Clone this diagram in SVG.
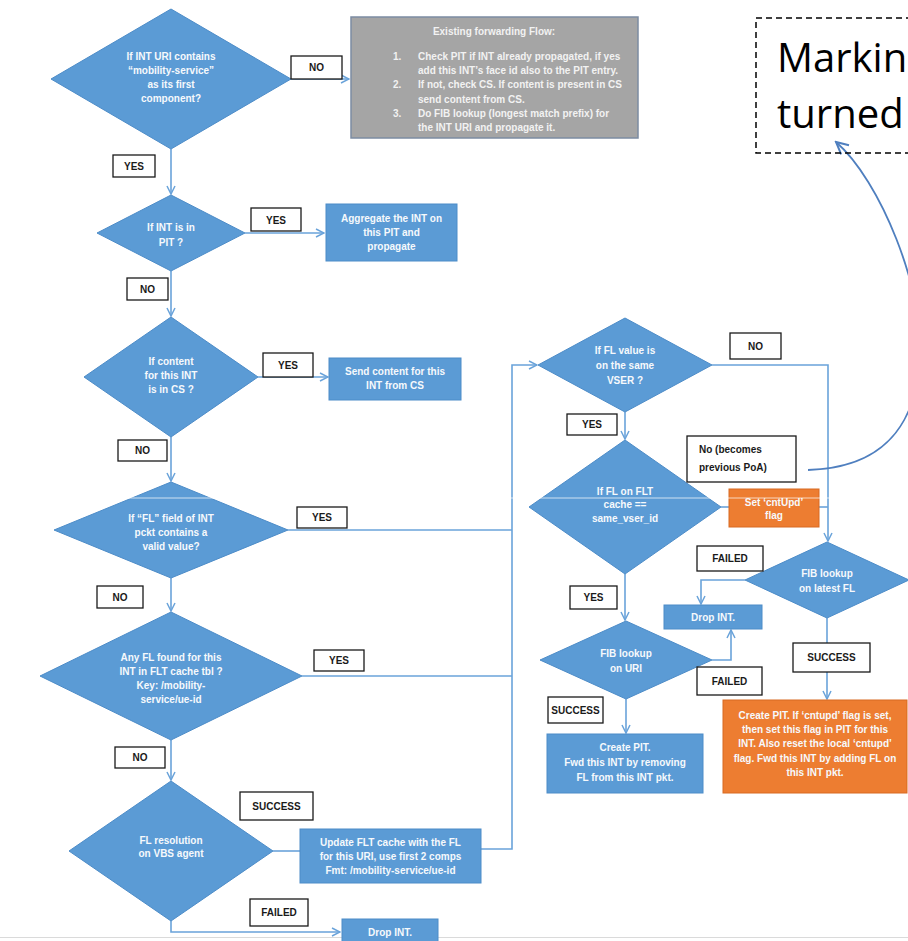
<svg xmlns="http://www.w3.org/2000/svg" width="908" height="941" viewBox="0 0 908 941">
  <style>
    .dia { fill: #5b9bd5; stroke: #4d8cc8; stroke-width: 1; }
    .box { fill: #5b9bd5; stroke: #4d8cc8; stroke-width: 1; }
    .obox { fill: #ed7d31; stroke: #d86a22; stroke-width: 1; }
    .gbox { fill: #a5a5a5; stroke: #7c8ca2; stroke-width: 1.5; }
    .lbl rect { fill: #ffffff; stroke: #1a1a1a; stroke-width: 1.3; }
    .lbl text { fill: #1a1a1a; font-family: "Liberation Sans", Arial, sans-serif; font-size: 10px; font-weight: bold; text-anchor: middle; }
    .nt { fill: #f6f9fc; font-family: "Liberation Sans", Arial, sans-serif; font-size: 10px; font-weight: bold; text-anchor: middle; }
    .gt { fill: #f2f2f2; font-family: "Liberation Sans", Arial, sans-serif; font-size: 10px; font-weight: bold; }
    .conn { fill: none; stroke: #6aa3da; stroke-width: 1.6; }
    .note { fill: #000000; font-family: "Open Sans", "Liberation Sans", sans-serif; font-size: 40px; }
  </style>
  <defs>
    <marker id="ah" viewBox="0 0 10 10" refX="9" refY="5" markerWidth="10" markerHeight="10" orient="auto" markerUnits="userSpaceOnUse">
      <path d="M1,1 L9,5 L1,9" fill="none" stroke="#6aa3da" stroke-width="1.5"/>
    </marker>
    <marker id="ahBig" viewBox="0 0 16 16" refX="14" refY="8" markerWidth="16" markerHeight="16" orient="auto" markerUnits="userSpaceOnUse">
      <path d="M2,2 L14,8 L2,14" fill="none" stroke="#4f7fbf" stroke-width="2"/>
    </marker>
  </defs>

  <rect width="908" height="941" fill="#ffffff"/>
  <line x1="0" y1="937.5" x2="908" y2="937.5" stroke="#dadada" stroke-width="1"/>

  <!-- connectors -->
  <g id="connectors">
    <path class="conn" d="M291,79 H349" marker-end="url(#ah)"/>
    <path class="conn" d="M171,149 V194" marker-end="url(#ah)"/>
    <path class="conn" d="M245,233 H324" marker-end="url(#ah)"/>
    <path class="conn" d="M171,271 V316" marker-end="url(#ah)"/>
    <path class="conn" d="M258,377 H328" marker-end="url(#ah)"/>
    <path class="conn" d="M171,437 V481" marker-end="url(#ah)"/>
    <path class="conn" d="M288,530 H512"/>
    <path class="conn" d="M171,578 V611" marker-end="url(#ah)"/>
    <path class="conn" d="M302,676 H512"/>
    <path class="conn" d="M171,740 V780" marker-end="url(#ah)"/>
    <path class="conn" d="M273,851 H300"/>
    <path class="conn" d="M481,849 H512 V365 H537" marker-end="url(#ah)"/>
    <path class="conn" d="M171,921 V932 H340" marker-end="url(#ah)"/>
    <path class="conn" d="M712,365 H828 V541" marker-end="url(#ah)"/>
    <path class="conn" d="M625,412 V439" marker-end="url(#ah)"/>
    <path class="conn" d="M721,507 H729"/>
    <path class="conn" d="M819,507 H828"/>
    <path class="conn" d="M745,580 H701 V604" marker-end="url(#ah)"/>
    <path class="conn" d="M827,618 V699" marker-end="url(#ah)"/>
    <path class="conn" d="M625,574 V620" marker-end="url(#ah)"/>
    <path class="conn" d="M712,660 H731 V630" marker-end="url(#ah)"/>
    <path class="conn" d="M626,699 V733" marker-end="url(#ah)"/>
    <path d="M808,470 C880,468 915,430 920,360 C925,290 880,180 836,142" fill="none" stroke="#4f7fbf" stroke-width="1.8" marker-end="url(#ahBig)"/>
  </g>

  <!-- decision: mobility-service prefix -->
  <g id="d-uri">
    <polygon class="dia" points="171,9 291,79 171,149 51,79"/>
    <text class="nt" x="171" y="59.5">If INT URI contains</text>
    <text class="nt" x="171" y="73.5">“mobility-service”</text>
    <text class="nt" x="171" y="87.5">as its first</text>
    <text class="nt" x="171" y="101.5">component?</text>
  </g>

  <!-- existing forwarding flow -->
  <g id="existing-flow">
    <rect class="gbox" x="351" y="17" width="287" height="121"/>
    <text class="gt" x="494" y="35" text-anchor="middle">Existing forwarding Flow:</text>
    <text class="gt" x="393" y="60">1.</text>
    <text class="gt" x="418" y="60">Check PIT if INT already propagated, if yes</text>
    <text class="gt" x="418" y="74">add this INT’s face id also to the PIT entry.</text>
    <text class="gt" x="393" y="88">2.</text>
    <text class="gt" x="418" y="88">If not, check CS. If content is present in CS</text>
    <text class="gt" x="418" y="103">send content from CS.</text>
    <text class="gt" x="393" y="117">3.</text>
    <text class="gt" x="418" y="117">Do FIB lookup (longest match prefix) for</text>
    <text class="gt" x="418" y="131">the INT URI and propagate it.</text>
  </g>

  <!-- note box -->
  <g id="note">
    <rect x="756" y="18" width="170" height="135" fill="none" stroke="#000000" stroke-width="1.5" stroke-dasharray="6,4"/>
    <text class="note" x="777" y="72">Markin</text>
    <text class="note" x="777" y="128">turned</text>
  </g>

  <g id="d-pit">
    <polygon class="dia" points="171,195 245,233 171,271 97,233"/>
    <text class="nt" x="171" y="230.5">If INT is in</text>
    <text class="nt" x="171" y="245.5">PIT ?</text>
  </g>
  <g id="aggregate">
    <rect class="box" x="326" y="204" width="131" height="57"/>
    <text class="nt" x="391.5" y="221.5">Aggregate the INT on</text>
    <text class="nt" x="391.5" y="235.5">this PIT and</text>
    <text class="nt" x="391.5" y="249.5">propagate</text>
  </g>

  <g id="d-cs">
    <polygon class="dia" points="171,317 258,377 171,437 84,377"/>
    <text class="nt" x="171" y="364.5">If content</text>
    <text class="nt" x="171" y="378.5">for this INT</text>
    <text class="nt" x="171" y="392.5">is in CS ?</text>
  </g>
  <g id="send-content">
    <rect class="box" x="329" y="358" width="132" height="42"/>
    <text class="nt" x="395" y="374.5">Send content for this</text>
    <text class="nt" x="395" y="388.5">INT from CS</text>
  </g>

  <g id="d-fl-field">
    <polygon class="dia" points="171,482 288,530 171,578 54,530"/>
    <text class="nt" x="171" y="521.5">If “FL” field of INT</text>
    <text class="nt" x="171" y="535.5">pckt contains a</text>
    <text class="nt" x="171" y="550">valid value?</text>
  </g>

  <g id="d-flt-cache">
    <polygon class="dia" points="171,612 302,676 171,740 40,676"/>
    <text class="nt" x="171" y="660.5">Any FL found for this</text>
    <text class="nt" x="171" y="674.5">INT in FLT cache tbl ?</text>
    <text class="nt" x="171" y="688.5">Key: /mobility-</text>
    <text class="nt" x="171" y="702.5">service/ue-id</text>
  </g>

  <g id="d-vbs">
    <polygon class="dia" points="171,781 273,851 171,921 69,851"/>
    <text class="nt" x="171" y="843.5">FL resolution</text>
    <text class="nt" x="171" y="857">on VBS agent</text>
  </g>
  <g id="update-flt">
    <rect class="box" x="300" y="829" width="181" height="54"/>
    <text class="nt" x="390.5" y="845.5">Update FLT cache with the FL</text>
    <text class="nt" x="390.5" y="859.5">for this URI, use first 2 comps</text>
    <text class="nt" x="390.5" y="873.5">Fmt: /mobility-service/ue-id</text>
  </g>
  <g id="drop-vbs">
    <rect class="box" x="342" y="919" width="96" height="26"/>
    <text class="nt" x="390" y="935.5">Drop INT.</text>
  </g>

  <g id="d-same-vser">
    <polygon class="dia" points="625,318 712,365 625,412 538,365"/>
    <text class="nt" x="625" y="353.5">If FL value is</text>
    <text class="nt" x="625" y="368.5">on the same</text>
    <text class="nt" x="625" y="384">VSER ?</text>
  </g>

  <g id="d-flt-vser">
    <polygon class="dia" points="625,440 721,507 625,574 529,507"/>
    <text class="nt" x="625" y="494.5">If FL on FLT</text>
    <text class="nt" x="625" y="507.5">cache ==</text>
    <text class="nt" x="625" y="521.5">same_vser_id</text>
  </g>
  <g id="set-cntupd">
    <rect class="obox" x="729" y="489" width="90" height="38"/>
    <text class="nt" x="774" y="505.5">Set ‘cntUpd’</text>
    <text class="nt" x="774" y="518.5">flag</text>
  </g>

  <g id="d-fib-latest">
    <polygon class="dia" points="827,542 909,580 827,618 745,580"/>
    <text class="nt" x="827" y="576.5">FIB lookup</text>
    <text class="nt" x="827" y="591.5">on latest FL</text>
  </g>
  <g id="drop-fib">
    <rect class="box" x="664" y="605" width="98" height="24"/>
    <text class="nt" x="713" y="620.5">Drop INT.</text>
  </g>

  <g id="d-fib-uri">
    <polygon class="dia" points="626,621 712,660 626,699 540,660"/>
    <text class="nt" x="626" y="656.5">FIB lookup</text>
    <text class="nt" x="626" y="671.5">on URI</text>
  </g>
  <g id="create-pit-remove">
    <rect class="box" x="547" y="734" width="156" height="59"/>
    <text class="nt" x="625" y="750.5">Create PIT.</text>
    <text class="nt" x="625" y="765.5">Fwd this INT by removing</text>
    <text class="nt" x="625" y="780.5">FL from this INT pkt.</text>
  </g>
  <g id="create-pit-add">
    <rect class="obox" x="723" y="700" width="184" height="93"/>
    <text class="nt" x="815" y="718.5">Create PIT. If ‘cntupd’ flag is set,</text>
    <text class="nt" x="815" y="732.5">then set this flag in PIT for this</text>
    <text class="nt" x="815" y="746.5">INT. Also reset the local ‘cntupd’</text>
    <text class="nt" x="815" y="761.5">flag. Fwd this INT by adding FL on</text>
    <text class="nt" x="815" y="775.5">this INT pkt.</text>
  </g>

  <!-- edge labels -->
  <g id="labels">
    <g class="lbl"><rect x="291" y="56" width="51" height="23"/><text x="316.5" y="71">NO</text></g>
    <g class="lbl"><rect x="113" y="155" width="42" height="22"/><text x="134" y="169.5">YES</text></g>
    <g class="lbl"><rect x="251" y="208" width="50" height="23"/><text x="276" y="223.5">YES</text></g>
    <g class="lbl"><rect x="127" y="278" width="41" height="22"/><text x="147.5" y="292.5">NO</text></g>
    <g class="lbl"><rect x="263" y="353" width="50" height="24"/><text x="288" y="368.5">YES</text></g>
    <g class="lbl"><rect x="118" y="440" width="49" height="21"/><text x="142.5" y="454">NO</text></g>
    <g class="lbl"><rect x="297" y="507" width="50" height="21"/><text x="322" y="521">YES</text></g>
    <g class="lbl"><rect x="97" y="586" width="46" height="22"/><text x="120" y="600.5">NO</text></g>
    <g class="lbl"><rect x="314" y="650" width="50" height="21"/><text x="339" y="664">YES</text></g>
    <g class="lbl"><rect x="115" y="747" width="50" height="21"/><text x="140" y="761">NO</text></g>
    <g class="lbl"><rect x="240" y="792" width="73" height="28"/><text x="276.5" y="809.5">SUCCESS</text></g>
    <g class="lbl"><rect x="250" y="899" width="58" height="27"/><text x="279" y="916">FAILED</text></g>
    <g class="lbl"><rect x="730" y="333" width="51" height="26"/><text x="755.5" y="349.5">NO</text></g>
    <g class="lbl"><rect x="567" y="414" width="50" height="21"/><text x="592" y="428">YES</text></g>
    <g class="lbl"><rect x="687" y="436" width="109" height="46"/><text x="699" y="452.5" style="text-anchor:start">No (becomes</text><text x="699" y="470.5" style="text-anchor:start">previous PoA)</text></g>
    <g class="lbl"><rect x="697" y="546" width="66" height="25"/><text x="730" y="562">FAILED</text></g>
    <g class="lbl"><rect x="570" y="586" width="47" height="23"/><text x="593.5" y="601">YES</text></g>
    <g class="lbl"><rect x="793" y="643" width="77" height="29"/><text x="831.5" y="661">SUCCESS</text></g>
    <g class="lbl"><rect x="697" y="667" width="65" height="28"/><text x="729.5" y="684.5">FAILED</text></g>
    <g class="lbl"><rect x="548" y="697" width="55" height="26"/><text x="575.5" y="713.5">SUCCESS</text></g>
  </g>

  <!-- faint horizontal streak across the sheet -->
  <line x1="0" y1="498" x2="908" y2="498" stroke="#ffffff" stroke-width="1" stroke-opacity="0.7"/>
</svg>
